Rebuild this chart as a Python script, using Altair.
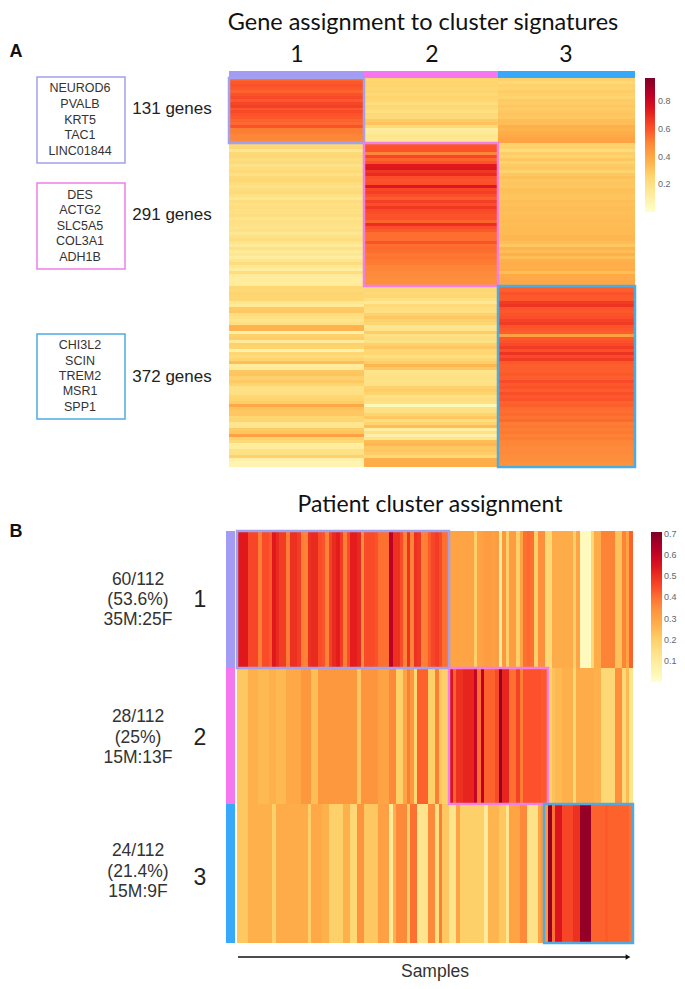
import altair as alt
import pandas as pd

# ---------- Panel A: gene signature heatmap values (rows per block, per column) ----------
gene_b1_c1 = [.57,.59,.60,.59,.57,.60,.62,.59,.63,.65,.59,.62,.60,.59,.57,.56,.60,.52,.52,.50,.50,.49]
gene_b1_c2 = [.25,.26,.26,.25,.26,.24,.26,.25,.22,.25,.24,.21,.24,.23,.29,.31,.24,.13,.14,.17,.16,.16]
gene_b1_c3 = [.27,.24,.27,.26,.28,.27,.26,.29,.28,.30,.28,.30,.31,.30,.33,.33,.37,.36,.38,.39,.41,.41]
gene_b2_c1 = [.24,.25,.16,.24,.25,.22,.23,.19,.22,.24,.2,.24,.25,.22,.19,.22,.24,.2,.16,.22,.2,.22,.2,.2,
              .22,.18,.2,.2,.18,.2,.16,.2,.22,.18,.14,.2,.14,.16,.13,.18,.22,.16,.13,.22,.14,.13,.13,.13]
gene_b2_c2 = [.59,.60,.60,.50,.63,.57,.60,.73,.75,.67,.70,.61,.60,.61,.75,.63,.65,.61,.58,.65,.61,.67,.62,.61,
              .60,.60,.57,.69,.61,.59,.55,.55,.55,.60,.55,.56,.55,.53,.54,.53,.52,.50,.50,.49,.49,.48,.48,.48]
gene_b2_c3 = [.27,.27,.22,.28,.26,.3,.26,.29,.3,.26,.3,.32,.3,.31,.3,.32,.32,.31,.31,.33,.32,.33,.33,.32,
              .33,.33,.34,.33,.34,.34,.34,.35,.35,.33,.3,.36,.33,.37,.33,.37,.38,.37,.38,.33,.39,.39,.4,.4]
gene_b3_c1 = [.25,.24,.26,.25,.25,.17,.14,.29,.3,.22,.2,.18,.21,.36,.36,.1,.27,.28,.14,.27,.26,.1,.25,.23,.26,.33,.13,.14,.3,.31,
              .27,.29,.26,.2,.2,.21,.25,.26,.28,.4,.32,.3,.3,.25,.26,.17,.18,.29,.31,.42,.27,.24,.12,.13,.2,.2,.27,.1,.08,.08]
gene_b3_c2 = [.24,.25,.24,.25,.21,.15,.24,.22,.2,.27,.3,.27,.25,.16,.18,.28,.2,.22,.2,.27,.3,.25,.25,.2,.25,.28,.35,.3,.18,.19,
              .2,.19,.2,.27,.28,.26,.2,.22,.2,.05,.2,.2,.26,.3,.22,.26,.33,.12,.2,.1,.18,.33,.35,.3,.3,.28,.24,.38,.38,.38]
gene_b3_c3 = [.58,.58,.60,.59,.59,.66,.68,.60,.59,.60,.61,.64,.66,.60,.59,.58,.42,.59,.60,.62,.66,.61,.68,.62,.66,.59,.58,.58,.58,.59,
              .58,.62,.59,.60,.58,.61,.59,.60,.57,.58,.56,.55,.56,.54,.56,.52,.53,.52,.53,.51,.52,.50,.50,.49,.49,.49,.48,.48,.47,.46]

# ---------- Panel B: patient cluster heatmap values (112 samples in each of 3 rows) ----------
sample_r1 = [.54,.54,.54,.46,.46,.46,.38,.45,.45,.43,.54,.51,.48,.48,.38,.50,.50,.48,.38,.37,
             .50,.51,.51,.45,.44,.37,.47,.51,.53,.48,.38,.45,.53,.53,.51,.35,.45,.45,.45,.44,
             .40,.40,.40,.62,.50,.50,.45,.37,.50,.37,.50,.49,.37,.38,.43,.46,.48,.45,.40,.40,
             .30,.30,.30,.30,.30,.30,.30,.2,.30,.31,.32,.32,.31,.32,.1,.33,.2,.32,.32,.2,.3,
             .40,.41,.40,.2,.35,.35,.18,.18,.28,.28,.28,.28,.28,.28,.2,.3,.03,.03,.03,.18,.28,
             .28,.37,.37,.37,.37,.23,.23,.37,.3,.42]
sample_r2 = [.22,.22,.22,.27,.27,.27,.25,.25,.25,.27,.27,.25,.25,.25,.29,.29,.29,.29,.33,.33,
             .33,.24,.24,.33,.33,.33,.33,.33,.33,.33,.33,.33,.33,.33,.22,.34,.34,.34,.34,.34,
             .3,.3,.3,.36,.36,.2,.2,.3,.38,.33,.18,.42,.42,.42,.2,.2,.38,.22,.2,.2,
             .55,.42,.50,.50,.52,.52,.52,.60,.40,.62,.42,.42,.42,.45,.68,.52,.52,.40,.40,.47,
             .38,.44,.44,.44,.44,.44,.43,.43,
             .2,.23,.25,.25,.27,.27,.27,.18,.28,.28,.28,.28,.28,.27,.27,.18,.18,.18,.18,.35,.35,.18,.25,.13]
sample_r3 = [.22,.22,.22,.27,.27,.27,.27,.27,.27,.27,.2,.28,.28,.28,.28,.28,.28,.28,.28,.28,
             .2,.29,.29,.29,.27,.27,.2,.2,.2,.2,.27,.27,.18,.18,.34,.34,.22,.22,.22,.22,
             .31,.31,.31,.1,.27,.36,.36,.36,.2,.40,.40,.13,.13,.13,.36,.36,.15,.38,.22,.22,
             .13,.13,.3,.2,.2,.2,.2,.2,.2,.2,.1,.26,.26,.26,.22,.22,.12,.3,.3,.3,.36,.36,.14,.14,.14,.3,.33,.33,
             .68,.4,.55,.55,.46,.46,.46,.5,.5,.68,.68,.68,.42,.42,.42,.42,.43,.42,.42,.42,.42,.42,.42,.40]

# ---------- Text ----------
title_a = "Gene assignment to cluster signatures"
title_b = "Patient cluster assignment"
cluster_names = ["1", "2", "3"]
gene_lists = [["NEUROD6", "PVALB", "KRT5", "TAC1", "LINC01844"],
              ["DES", "ACTG2", "SLC5A5", "COL3A1", "ADH1B"],
              ["CHI3L2", "SCIN", "TREM2", "MSR1", "SPP1"]]
gene_counts = ["131 genes", "291 genes", "372 genes"]
patient_lines = [["60/112", "(53.6%)", "35M:25F"],
                 ["28/112", "(25%)", "15M:13F"],
                 ["24/112", "(21.4%)", "15M:9F"]]
cluster_colors = ["#a29cf5", "#f676ef", "#38a9fa"]
box_colors = ["#a3a0ec", "#f07fe8", "#4faae2"]
ramp = ["#ffffcc", "#ffeda0", "#fed976", "#feb24c", "#fd8d3c", "#fc4e2a", "#e31a1c", "#bd0026", "#800026"]

# ---------- Layout (page pixels) ----------
A_x = [229, 364, 498, 635]
A_y = [78, 143, 286, 467]
A_bar_top = 71
B_x0, B_x1 = 237, 633
B_y = [531, 668, 804, 943]
B_side = (226, 235)
gene_box_x = (37, 125)
gene_box_y = [(77, 163), (183, 269), (334, 419)]
gene_line_y = [[88, 104, 120, 135, 151], [195, 210, 226, 241, 257], [345, 361, 376, 391, 407]]
count_pos = [(172, 109), (172, 215), (172, 377)]
patient_y = [[580, 600, 620], [717, 738, 758], [851, 872, 892]]
patient_num_y = [600, 738, 878]

sx = alt.Scale(domain=[8, 677], range=[0, 669], nice=False, zero=False)
sy = alt.Scale(domain=[8, 981], range=[0, 973], nice=False, zero=False)
X = alt.X("x:Q", scale=sx, axis=None)
X2 = alt.X2("x2:Q")
Y = alt.Y("y:Q", scale=sy, axis=None)
Y2 = alt.Y2("y2:Q")


def ramp_scale(top):
    n = len(ramp) - 1
    return alt.Scale(domain=[top * i / n for i in range(n + 1)], range=ramp)


# gene heatmap table
gene_blocks = [[gene_b1_c1, gene_b1_c2, gene_b1_c3],
               [gene_b2_c1, gene_b2_c2, gene_b2_c3],
               [gene_b3_c1, gene_b3_c2, gene_b3_c3]]
rows = []
for b, block in enumerate(gene_blocks):
    for c, col in enumerate(block):
        n = len(col)
        for i, v in enumerate(col):
            rows.append(dict(x=A_x[c], x2=A_x[c + 1],
                             y=round(A_y[b] + (A_y[b + 1] - A_y[b]) * i / n),
                             y2=round(A_y[b] + (A_y[b + 1] - A_y[b]) * (i + 1) / n), v=v))
gene_df = pd.DataFrame(rows)

# sample heatmap table
rows = []
for r, series in enumerate([sample_r1, sample_r2, sample_r3]):
    n = len(series)
    for i, v in enumerate(series):
        rows.append(dict(x=round(B_x0 + (B_x1 - B_x0) * i / n), x2=round(B_x0 + (B_x1 - B_x0) * (i + 1) / n),
                         y=B_y[r], y2=B_y[r + 1], v=v))
sample_df = pd.DataFrame(rows)

gene_heat = alt.Chart(gene_df).mark_rect().encode(
    x=X, x2=X2, y=Y, y2=Y2,
    color=alt.Color("v:Q", scale=ramp_scale(0.97),
                    legend=alt.Legend(orient="none", legendX=637, legendY=70, gradientLength=134,
                                      gradientThickness=10, values=[0.2, 0.4, 0.6, 0.8], labelOffset=3,
                                      labelFontSize=9, labelColor="#666666", labelFont="Liberation Sans",
                                      title=None)))
sample_heat = alt.Chart(sample_df).mark_rect().encode(
    x=X, x2=X2, y=Y, y2=Y2,
    color=alt.Color("v:Q", scale=ramp_scale(0.71),
                    legend=alt.Legend(orient="none", legendX=643, legendY=524, gradientLength=150,
                                      gradientThickness=11, values=[0.1, 0.2, 0.3, 0.4, 0.5, 0.6, 0.7], labelOffset=2,
                                      labelFontSize=9, labelColor="#666666", labelFont="Liberation Sans",
                                      title=None)))

# colour bars
bars = [dict(x=A_x[i], x2=A_x[i + 1], y=A_bar_top, y2=A_y[0], c=cluster_colors[i]) for i in range(3)]
bars += [dict(x=B_side[0], x2=B_side[1], y=B_y[i], y2=B_y[i + 1], c=cluster_colors[i]) for i in range(3)]
bar_layer = alt.Chart(pd.DataFrame(bars)).mark_rect().encode(
    x=X, x2=X2, y=Y, y2=Y2, color=alt.Color("c:N", scale=None))

# outlines
sample_cuts = [0, 60, 88, 112]
step = (B_x1 - B_x0) / 112
outline = [dict(x=A_x[i], x2=A_x[i + 1], y=A_y[i], y2=A_y[i + 1], c=box_colors[i], s=2.5) for i in range(3)]
outline += [dict(x=gene_box_x[0], x2=gene_box_x[1], y=gene_box_y[i][0], y2=gene_box_y[i][1], c=box_colors[i], s=1.5) for i in range(3)]
outline += [dict(x=round(B_x0 + step * sample_cuts[i]) - (4 if i == 2 else 0),
                 x2=round(B_x0 + step * sample_cuts[i + 1]),
                 y=B_y[i], y2=B_y[i + 1], c=box_colors[i], s=2.5) for i in range(3)]
outline_layer = alt.Chart(pd.DataFrame(outline)).mark_rect(fillOpacity=0).encode(
    x=X, x2=X2, y=Y, y2=Y2,
    stroke=alt.Stroke("c:N", scale=None), strokeWidth=alt.StrokeWidth("s:Q", scale=None))

# arrow
arrow_df = pd.DataFrame([dict(x=238, x2=628, y=957)])
arrow_rule = alt.Chart(arrow_df).mark_rule(color="#111111", strokeWidth=1.5).encode(x=X, x2=X2, y=Y)
arrow_head = alt.Chart(pd.DataFrame([dict(x=628, y=957)])).mark_point(
    shape="triangle-right", filled=True, size=30, color="#111111", opacity=1).encode(x=X, y=Y)


# texts
def text_layer(items, font, size, weight="normal", color="#222222"):
    return alt.Chart(pd.DataFrame(items)).mark_text(
        font=font, fontSize=size, fontWeight=weight, color=color, align="center", baseline="middle"
    ).encode(x=X, y=Y, text="t:N")


lato = "Lato"
arial = "Liberation Sans"
layers_text = [
    text_layer([dict(x=423, y=23, t=title_a)], lato, 23.5, color="#111111"),
    text_layer([dict(x=430, y=505, t=title_b)], lato, 23, color="#111111"),
    text_layer([dict(x=x, y=55, t=t) for x, t in zip([297, 432, 566], cluster_names)], lato, 23, color="#111111"),
    text_layer([dict(x=16, y=52, t="A"), dict(x=16, y=532, t="B")], arial, 18, "bold", "#111111"),
    text_layer([dict(x=80, y=gene_line_y[g][i], t=t) for g, l in enumerate(gene_lists) for i, t in enumerate(l)], arial, 12.5, color="#333333"),
    text_layer([dict(x=count_pos[g][0], y=count_pos[g][1], t=gene_counts[g]) for g in range(3)], arial, 17, color="#222222"),
    text_layer([dict(x=138, y=patient_y[g][i], t=t) for g, l in enumerate(patient_lines) for i, t in enumerate(l)], arial, 17.5, color="#333333"),
    text_layer([dict(x=200, y=patient_num_y[g], t=cluster_names[g]) for g in range(3)], arial, 23, color="#222222"),
    text_layer([dict(x=435, y=972, t="Samples")], arial, 17.5, color="#333333"),
]

chart = alt.layer(
    gene_heat, sample_heat, bar_layer, outline_layer, arrow_rule, arrow_head, *layers_text
).resolve_scale(color="independent", stroke="independent"
).properties(width=669, height=973, padding=0, autosize=alt.AutoSizeParams(type="none")
).configure_view(stroke=None)

chart.save("out.html", embed_options={"renderer": "svg", "actions": False})
